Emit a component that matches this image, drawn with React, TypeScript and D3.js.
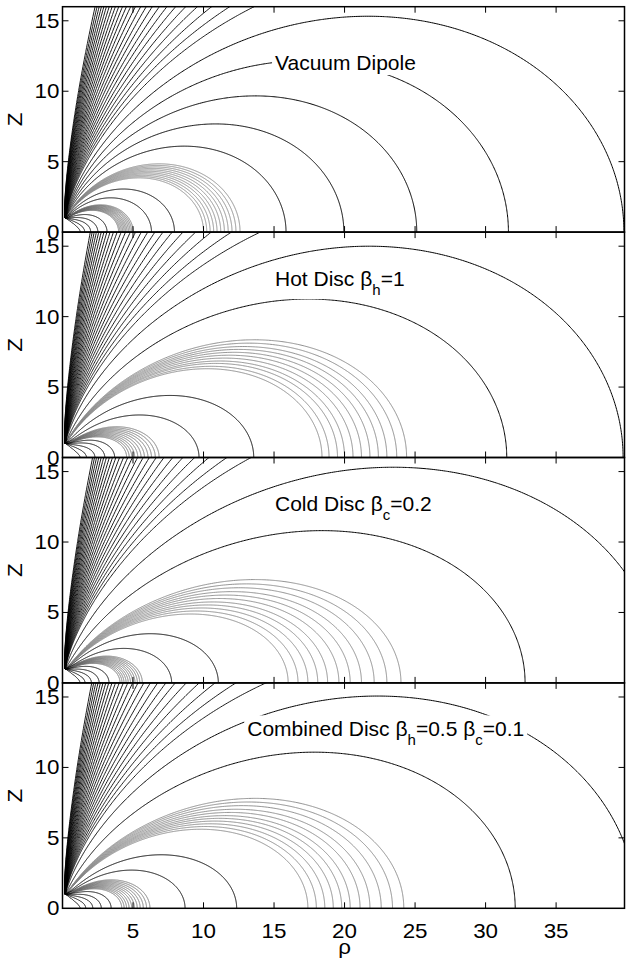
import React, { useEffect, useRef } from 'react';
import * as d3 from 'd3';

const W = 626;
const H = 962;
const X_LEFT = 62.5;
const X_RIGHT = 624.5;
const X_MAX = 39.85;
const Z_MAX = 16;
const PANEL_TOP = [6.7, 232.1, 457.5, 682.9];
const PANEL_H = 225.4;

const xTicks = [5, 10, 15, 20, 25, 30, 35];
const zTicks = [0, 5, 10, 15];

// point where all drawn field lines converge (rho, z)
const P_RHO = 0.2;
const P_Z = 1.0;

// ---- Panel 1: vacuum dipole (equatorial crossing radius, shape exponent)
const vacClosedCross = [1.26, 1.58, 2.0, 2.51, 3.16, 6.31, 7.94, 15.85, 19.95, 25.12, 31.62, 39.81];
const vacClosedShape = [2, 2, 2, 2, 2, 2, 2, 2, 2, 2, 2, 2];
const vacOpenCross = [50.1, 56.2, 63.1, 70.8, 79.4, 89.1, 100, 112, 126, 141, 158, 178, 200, 224,
  251, 282, 316, 355, 398, 447, 501, 562, 631, 708, 794];
const vacOpenShape = 2;
const vacGrayInner = [3.98, 4.07, 4.17, 4.27, 4.37, 4.47, 4.57, 4.68, 4.79, 4.9, 5.01];
const vacGrayOuter = [10.0, 10.23, 10.47, 10.72, 10.96, 11.22, 11.48, 11.75, 12.02, 12.3, 12.59];
const vacGrayShape = [2, 2];

// ---- Panel 2: hot disc
const hotClosedCross = [1.25, 1.7, 2.3, 3.0, 3.7, 9.68, 13.56, 31.5, 39.75];
const hotClosedShape = [3, 3, 3, 3, 3, 3.3, 3.0, 2.4, 2.1];
const hotOpenCross = [50, 57.1, 65.2, 74.4, 84.9, 97.0, 110.7, 126.4, 144.3, 164.7, 188.1, 214.7,
  245.1, 279.9, 319.5, 364.8, 416.5, 475.5, 542.9, 619.8, 707.6, 807.8, 922.3, 1053, 1202];
const hotOpenShape = 2.05;
const hotGrayInner = [4.55, 4.73, 4.92, 5.12, 5.34, 5.57, 5.81, 6.06, 6.31, 6.58, 6.85];
const hotGrayOuter = [18.4, 18.9, 19.5, 20.0, 20.6, 21.2, 21.8, 22.4, 23.0, 23.7, 24.4];
const hotGrayShape = [3.15, 2.65];

// ---- Panel 3: cold disc
const coldClosedCross = [1.25, 1.6, 2.05, 2.6, 3.3, 7.74, 11.05, 32.8, 42.5];
const coldClosedShape = [2.6, 2.6, 2.6, 2.6, 2.6, 3.2, 3.2, 2.9, 2.35];
const coldOpenCross = [53, 60.2, 68.4, 77.7, 88.3, 100.3, 114.0, 129.5, 147.1, 167.1, 189.9, 215.7,
  245.1, 278.4, 316.3, 359.4, 408.3, 463.8, 527.0, 598.7, 680.2, 772.8, 877.9, 997.4, 1133];
const coldOpenShape = 2.1;
const coldGrayInner = [4.08, 4.22, 4.36, 4.51, 4.66, 4.82, 4.98, 5.14, 5.31, 5.48, 5.66];
const coldGrayOuter = [16.0, 16.7, 17.4, 18.1, 18.8, 19.6, 20.4, 21.2, 22.1, 23.0, 24.0];
const coldGrayShape = [2.8, 3.45];

// ---- Panel 4: combined disc
const combClosedCross = [1.25, 1.65, 2.15, 2.75, 3.45, 8.69, 12.35, 32.1, 40.7];
const combClosedShape = [2.8, 2.8, 2.8, 2.8, 2.8, 3.3, 3.4, 2.6, 2.2];
const combOpenCross = [50, 57.1, 65.2, 74.4, 84.9, 97.0, 110.7, 126.4, 144.3, 164.7, 188.1, 214.7,
  245.1, 279.9, 319.5, 364.8, 416.5, 475.5, 542.9, 619.8, 707.6, 807.8, 922.3, 1053, 1202];
const combOpenShape = 2.1;
const combGrayInner = [4.2, 4.37, 4.54, 4.72, 4.91, 5.1, 5.3, 5.51, 5.73, 5.96, 6.2];
const combGrayOuter = [17.4, 18.0, 18.6, 19.2, 19.8, 20.4, 21.1, 21.8, 22.6, 23.4, 24.2];
const combGrayShape = [3.0, 3.05];

type Part = { t: string; sub?: boolean };
const labelParts: Part[][] = [
  [{ t: 'Vacuum Dipole' }],
  [{ t: 'Hot Disc β' }, { t: 'h', sub: true }, { t: '=1' }],
  [{ t: 'Cold Disc β' }, { t: 'c', sub: true }, { t: '=0.2' }],
  [{ t: 'Combined Disc β' }, { t: 'h', sub: true }, { t: '=0.5 β' }, { t: 'c', sub: true }, { t: '=0.1' }],
];
const labelRho = [15.07, 15.07, 15.07, 13.1];
const labelZ = [12.0, 12.66, 12.7, 12.7];

const panels = [
  { cc: vacClosedCross, cs: vacClosedShape, oc: vacOpenCross, os: vacOpenShape, gIn: vacGrayInner, gOut: vacGrayOuter, gShape: vacGrayShape },
  { cc: hotClosedCross, cs: hotClosedShape, oc: hotOpenCross, os: hotOpenShape, gIn: hotGrayInner, gOut: hotGrayOuter, gShape: hotGrayShape },
  { cc: coldClosedCross, cs: coldClosedShape, oc: coldOpenCross, os: coldOpenShape, gIn: coldGrayInner, gOut: coldGrayOuter, gShape: coldGrayShape },
  { cc: combClosedCross, cs: combClosedShape, oc: combOpenCross, os: combOpenShape, gIn: combGrayInner, gOut: combGrayOuter, gShape: combGrayShape },
];

const FONT = '"Liberation Sans", Arial, Helvetica, sans-serif';
const TICK_FS = 20;
const TICK_SX = 1.12;

function fieldLine(L: number, n: number): [number, number][] {
  const s0 = Math.pow(L, -1 / n);
  const th0 = Math.asin(Math.min(1, s0));
  const c0 = Math.cos(th0);
  const rho0 = Math.sin(th0);
  const z0 = c0;
  const thetas: number[] = [];
  const N = 500;
  for (let i = 0; i <= N; i++) thetas.push(th0 + ((Math.PI / 2 - th0) * i) / N);
  const M = 300;
  for (let j = 1; j < M; j++) {
    const r = Math.exp((Math.log(L) * j) / M);
    const s = Math.pow(r / L, 1 / n);
    thetas.push(Math.asin(Math.min(1, s)));
  }
  thetas.sort((a, b) => a - b);
  const pts: [number, number][] = [];
  for (const th of thetas) {
    const sn = Math.sin(th);
    const cs = Math.max(0, Math.cos(th));
    const r = L * Math.pow(sn, n);
    let rho = r * sn;
    let z = r * cs;
    const b = Math.pow(cs / c0, 2) * Math.pow(r, -1.5);
    rho += (P_RHO - rho0) * b;
    z += (P_Z - z0) * b;
    pts.push([rho, z]);
    if (z > Z_MAX + 1 || rho > X_MAX + 1) break;
  }
  return pts;
}

export default function App() {
  const ref = useRef<SVGSVGElement>(null);
  useEffect(() => {
    const svg = d3.select(ref.current);
    svg.selectAll('*').remove();
    const x = d3.scaleLinear().domain([0, X_MAX]).range([X_LEFT, X_RIGHT]);
    const defs = svg.append('defs');

    panels.forEach((p, i) => {
      const top = PANEL_TOP[i];
      const y = d3.scaleLinear().domain([0, Z_MAX]).range([top + PANEL_H, top]);
      const clipId = 'clip' + i;
      defs.append('clipPath').attr('id', clipId).append('rect')
        .attr('x', X_LEFT).attr('y', top).attr('width', X_RIGHT - X_LEFT).attr('height', PANEL_H);
      const line = d3.line<[number, number]>().x((d) => x(d[0])).y((d) => y(d[1]));
      const lg = svg.append('g').attr('clip-path', `url(#${clipId})`).attr('fill', 'none');

      p.gIn.forEach((L) => {
        lg.append('path').attr('d', line(fieldLine(L, p.gShape[0])) as string)
          .attr('stroke', '#777').attr('stroke-width', 0.95);
      });
      p.gOut.forEach((L) => {
        lg.append('path').attr('d', line(fieldLine(L, p.gShape[1])) as string)
          .attr('stroke', '#8a8a8a').attr('stroke-width', 0.95);
      });
      p.cc.forEach((L, k) => {
        lg.append('path').attr('d', line(fieldLine(L, p.cs[k])) as string)
          .attr('stroke', '#000').attr('stroke-width', 1.0);
      });
      p.oc.forEach((L) => {
        lg.append('path').attr('d', line(fieldLine(L, p.os)) as string)
          .attr('stroke', '#000').attr('stroke-width', 0.9);
      });

      // label with white background
      const labG = svg.append('g');
      const bg = labG.append('rect').attr('fill', '#fff');
      const yc = y(labelZ[i]);
      const txt = labG.append('text').attr('x', x(labelRho[i])).attr('y', yc + 7)
        .attr('font-family', FONT).attr('font-size', 21).attr('fill', '#000');
      let prevSub = false;
      labelParts[i].forEach((part) => {
        const ts = txt.append('tspan').text(part.t);
        if (part.sub) {
          ts.attr('font-size', 15).attr('dy', 9);
        } else if (prevSub) {
          ts.attr('dy', -9);
        }
        prevSub = !!part.sub;
      });
      const bb = (txt.node() as SVGTextElement).getBBox();
      bg.attr('x', bb.x - 3).attr('y', bb.y - 2).attr('width', bb.width + 6).attr('height', bb.height + 3);

      // axes box
      const ax = svg.append('g').attr('stroke', '#000');
      ax.append('rect').attr('x', X_LEFT).attr('y', top).attr('width', X_RIGHT - X_LEFT).attr('height', PANEL_H)
        .attr('fill', 'none').attr('stroke-width', 1.5);
      xTicks.forEach((t) => {
        ax.append('line').attr('x1', x(t)).attr('x2', x(t)).attr('y1', top + PANEL_H).attr('y2', top + PANEL_H - 6).attr('stroke-width', 1);
        ax.append('line').attr('x1', x(t)).attr('x2', x(t)).attr('y1', top).attr('y2', top + 6).attr('stroke-width', 1);
      });
      zTicks.forEach((t) => {
        if (t === 0) return;
        ax.append('line').attr('x1', X_LEFT).attr('x2', X_LEFT + 6).attr('y1', y(t)).attr('y2', y(t)).attr('stroke-width', 1);
        ax.append('line').attr('x1', X_RIGHT).attr('x2', X_RIGHT - 6).attr('y1', y(t)).attr('y2', y(t)).attr('stroke-width', 1);
      });
      const tl = svg.append('g').attr('font-family', FONT).attr('font-size', TICK_FS).attr('fill', '#000');
      zTicks.forEach((t) => {
        tl.append('text').attr('transform', `translate(59.5,${y(t) + 7}) scale(${TICK_SX},1)`)
          .attr('text-anchor', 'end').text(String(t));
      });
      tl.append('text').attr('transform', `translate(22,${top + PANEL_H / 2}) rotate(-90) scale(${TICK_SX},1)`)
        .attr('text-anchor', 'middle').text('Z');
      if (i === panels.length - 1) {
        xTicks.forEach((t) => {
          tl.append('text').attr('transform', `translate(${x(t)},${top + PANEL_H + 30}) scale(${TICK_SX},1)`)
            .attr('text-anchor', 'middle').text(String(t));
        });
        tl.append('text').attr('transform', `translate(${x(20)},${top + PANEL_H + 46}) scale(${TICK_SX},1)`)
          .attr('text-anchor', 'middle').text('ρ');
      }
    });
  }, []);
  return (
    <div style={{ position: 'absolute', left: 0, top: 0 }}>
      <svg ref={ref} width={W} height={H} style={{ display: 'block', background: '#fff' }} />
    </div>
  );
}
